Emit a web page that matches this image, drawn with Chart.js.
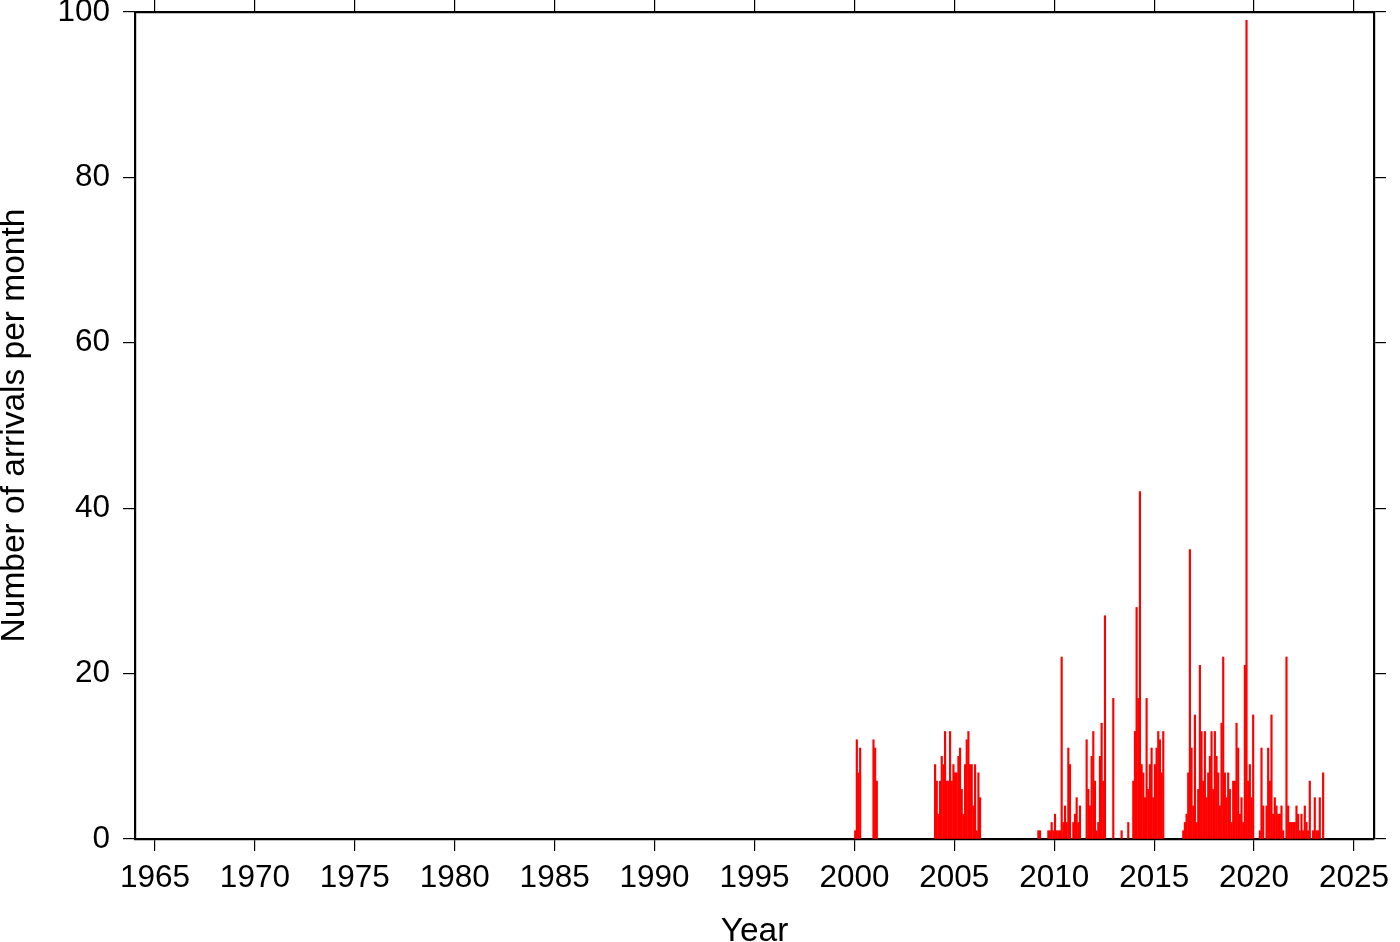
<!DOCTYPE html>
<html>
<head>
<meta charset="utf-8">
<title>Number of arrivals per month</title>
<script src="https://cdn.jsdelivr.net/npm/chart.js@4.4.1/dist/chart.umd.min.js"></script>
<style>
    html, body { margin: 0; padding: 0; background: #fff; }
    #wrap { width: 1400px; height: 942px; }
</style>
</head>
<body>
<div id="wrap"><canvas id="chart" width="1400" height="942"></canvas></div>
<script>
// monthly arrival counts, one value per month from January of the start year
const burst2000Start = 2000;
const burst2000 = [1, 12, 8, 11, 0, 0, 0, 0, 0, 0, 0, 12,
                   11, 7];

const burst2004Start = 2004;
const burst2004 = [9, 7, 3, 7, 10, 9, 13, 7, 7, 13, 7, 9,
                   8, 8, 10, 11, 6, 3, 9, 12, 13, 9, 9, 4,
                   9, 1, 8, 5];

const burst2009Start = 2009;
const burst2009 = [0, 0, 1, 1, 0, 0, 0, 0, 1, 1, 2, 1,       // 2009
                   3, 1, 1, 1, 22, 2, 4, 2, 11, 9, 0, 2,     // 2010
                   3, 5, 2, 4, 0, 0, 0, 12, 6, 4, 10, 13,    // 2011
                   7, 1, 2, 10, 14, 7, 27, 0, 0, 0, 0, 17,   // 2012
                   0, 0, 0, 0, 1, 0, 0, 0, 2, 0, 0, 7,       // 2013
                   13, 28, 17, 42, 9, 8, 5, 17, 6, 9, 11, 5, // 2014
                   9, 11, 13, 12, 8, 13, 0, 0, 0, 0, 0, 0];  // 2015

const burst2016Start = 2016;
const burst2016 = [0, 0, 0, 0, 0, 1, 2, 3, 8, 35, 11, 4,     // 2016
                   15, 2, 6, 21, 13, 7, 13, 5, 8, 10, 13, 6, // 2017
                   13, 10, 8, 4, 14, 22, 8, 5, 8, 6, 2, 7,   // 2018
                   7, 14, 11, 3, 5, 2, 21, 99, 7, 9, 5, 15,  // 2019
                   0, 0, 0, 1, 11, 4, 0, 4, 11, 7, 15, 3,    // 2020
                   5, 4, 3, 3, 4, 1, 0, 22, 4, 2, 2, 2,      // 2021
                   2, 4, 3, 1, 3, 1, 4, 2, 1, 7, 0, 1,       // 2022
                   5, 1, 1, 5, 0, 8];                        // 2023

// tick labels
const yearTicks = [1965, 1970, 1975, 1980, 1985, 1990, 1995, 2000, 2005, 2010, 2015, 2020, 2025];
const countTicks = [0, 20, 40, 60, 80, 100];

const fontFamily = '"Liberation Sans", Arial, Helvetica, sans-serif';
const tickFont = { family: fontFamily, size: 31.5, lineHeight: 1 };
const titleFont = { family: fontFamily, size: 33.5, lineHeight: 1 };

function toPoints(startYear, counts) {
    const pts = [];
    counts.forEach(function(cnt, i) {
        if (cnt > 0) {
            pts.push({ x: startYear + (i + 0.45) / 12, y: cnt });
        }
    });
    return pts;
}

const points = [].concat(
    toPoints(burst2000Start, burst2000),
    toPoints(burst2004Start, burst2004),
    toPoints(burst2009Start, burst2009),
    toPoints(burst2016Start, burst2016)
);

// keep the plot box fixed: no extra room for half labels
function noPad(s) {
    s.paddingTop = 0;
    s.paddingBottom = 0;
    s.paddingLeft = 0;
    s.paddingRight = 0;
}

const tickGrid = { drawOnChartArea: false, drawTicks: true, tickLength: 12, color: '#000', lineWidth: 1.2, offset: false };
const frame = { display: true, color: '#000', width: 2.2 };

new Chart(document.getElementById('chart'), {
    type: 'bar',
    data: {
        datasets: [{
            label: 'arrivals',
            data: points,
            backgroundColor: '#ff0000',
            borderWidth: 0,
            barThickness: 1.5
        }]
    },
    options: {
        responsive: false,
        animation: false,
        devicePixelRatio: 1,
        layout: { padding: 0 },
        plugins: {
            legend: { display: false },
            tooltip: { enabled: false }
        },
        scales: {
            x: {
                type: 'linear',
                position: 'bottom',
                min: 1964,
                max: 2026,
                offset: false,
                afterBuildTicks: s => { s.ticks = yearTicks.map(v => ({ value: v })); },
                afterFit: s => { s.height = 103; noPad(s); },
                ticks: { font: tickFont, color: '#000', padding: 12, autoSkip: false, maxRotation: 0, callback: v => String(v) },
                grid: tickGrid,
                border: frame,
                title: { display: true, text: 'Year', font: titleFont, color: '#000', padding: { top: 0, bottom: -7 } }
            },
            x2: {
                type: 'linear',
                position: 'top',
                min: 1964,
                max: 2026,
                offset: false,
                afterBuildTicks: s => { s.ticks = yearTicks.map(v => ({ value: v })); },
                afterFit: s => { s.height = 12; noPad(s); },
                ticks: { display: false },
                grid: tickGrid,
                border: frame
            },
            y: {
                type: 'linear',
                position: 'left',
                min: 0,
                max: 100,
                afterBuildTicks: s => { s.ticks = countTicks.map(v => ({ value: v })); },
                afterFit: s => { s.width = 135; noPad(s); },
                ticks: { font: tickFont, color: '#000', padding: 13, callback: v => String(v) },
                grid: tickGrid,
                border: frame,
                title: { display: true, text: 'Number of arrivals per month', font: titleFont, color: '#000', padding: { top: -2, bottom: 0 } }
            },
            y2: {
                type: 'linear',
                position: 'right',
                min: 0,
                max: 100,
                afterBuildTicks: s => { s.ticks = countTicks.map(v => ({ value: v })); },
                afterFit: s => { s.width = 26; noPad(s); },
                ticks: { display: false },
                grid: tickGrid,
                border: frame
            }
        }
    }
});
</script>
</body>
</html>
